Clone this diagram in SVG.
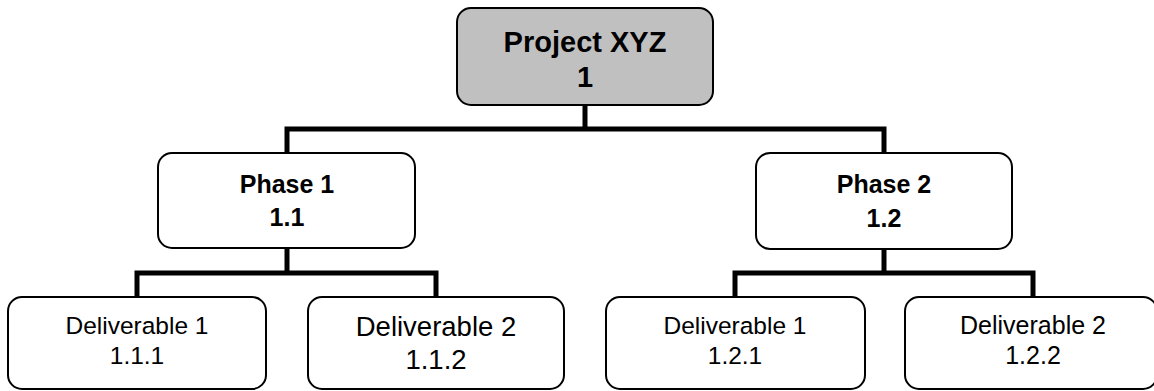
<svg xmlns="http://www.w3.org/2000/svg" width="1154" height="391" viewBox="0 0 1154 391">
  <style>
    .box { fill: #ffffff; stroke: #000000; stroke-width: 2; }
    .root { fill: #c0c0c0; }
    .link { fill: none; stroke: #000000; stroke-width: 5; stroke-linejoin: miter; stroke-linecap: square; }
    text { font-family: "Liberation Sans", Arial, sans-serif; fill: #000000; text-anchor: middle; }
    .bold { font-weight: 700; }
  </style>

  <!-- tree connectors -->
  <g id="connectors">
    <path class="link" d="M585,106 V129 M287,153 V129 H884 V153"/>
    <path class="link" d="M287,248 V273 M137,297 V273 H436 V297"/>
    <path class="link" d="M884,249 V273 M735,297 V273 H1033 V297"/>
  </g>

  <!-- level 1 -->
  <g id="project-xyz">
    <rect class="box root" x="457" y="8" width="256" height="97" rx="14"/>
    <text class="bold" x="585" y="52" font-size="29">Project XYZ</text>
    <text class="bold" x="585" y="87" font-size="29">1</text>
  </g>

  <!-- level 2 -->
  <g id="phase-1">
    <rect class="box" x="158" y="153" width="257" height="95" rx="14"/>
    <text class="bold" x="287" y="193" font-size="25">Phase 1</text>
    <text class="bold" x="287" y="226" font-size="25">1.1</text>
  </g>
  <g id="phase-2">
    <rect class="box" x="756" y="153" width="256" height="96" rx="14"/>
    <text class="bold" x="884" y="193" font-size="25">Phase 2</text>
    <text class="bold" x="884" y="227" font-size="25">1.2</text>
  </g>

  <!-- level 3 -->
  <g id="deliverable-1-1-1">
    <rect class="box" x="8" y="297" width="258" height="92" rx="14"/>
    <text x="137" y="334" font-size="24.5">Deliverable 1</text>
    <text x="137" y="364" font-size="24.5">1.1.1</text>
  </g>
  <g id="deliverable-1-1-2">
    <rect class="box" x="308" y="297" width="256" height="92" rx="14"/>
    <text x="436" y="336" font-size="27.5">Deliverable 2</text>
    <text x="436" y="369" font-size="27.5">1.1.2</text>
  </g>
  <g id="deliverable-1-2-1">
    <rect class="box" x="606" y="297" width="259" height="92" rx="14"/>
    <text x="735" y="334" font-size="24.5">Deliverable 1</text>
    <text x="735" y="364" font-size="24.5">1.2.1</text>
  </g>
  <g id="deliverable-1-2-2">
    <rect class="box" x="905" y="297" width="252" height="92" rx="14"/>
    <text x="1033" y="334" font-size="25">Deliverable 2</text>
    <text x="1033" y="364" font-size="25">1.2.2</text>
  </g>
</svg>
